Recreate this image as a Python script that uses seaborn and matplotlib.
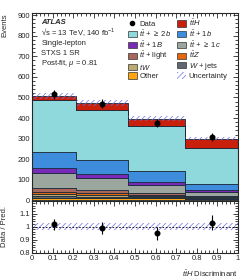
import numpy as np
import pandas as pd
import matplotlib
matplotlib.use("Agg")
import matplotlib.pyplot as plt
import matplotlib.patches as mpatches
from matplotlib.lines import Line2D
from matplotlib.ticker import MultipleLocator, FixedLocator, FixedFormatter
import seaborn as sns

# ---------------- data ----------------
bin_edges = [0.0, 0.215, 0.465, 0.745, 1.0]
bin_centers = [0.1075, 0.34, 0.605, 0.8725]

# per-bin yields (events), stack from top to bottom
ttH      = [17, 32, 37, 45]
tt_2b    = [255, 246, 219, 176]
tt_1b    = [76, 65, 49, 27]
tt_1B    = [24, 22, 18, 12]
tt_1c    = [73, 56, 38, 16]
tt_light = [22, 15, 7, 4]
ttZ      = [10, 10, 7, 4]
tW       = [10, 9, 6, 4]
Wjets    = [8, 7, 6, 4]
Other    = [12, 11, 10, 8]

data_vals = [515, 469, 376, 309]
data_errs = [23, 22, 19, 18]
rel_unc   = [0.028, 0.028, 0.028, 0.028]

labels = [r"$t\bar{t}H$", r"$t\bar{t}$ + $\geq$ 2$b$", r"$t\bar{t}$ + 1$b$",
          r"$t\bar{t}$ + 1$B$", r"$t\bar{t}$ + $\geq$ 1$c$", r"$t\bar{t}$ + light",
          r"$t\bar{t}Z$", r"$tW$", r"$W$ + jets", "Other"]
colors = ["#c8200a", "#8fd8dc", "#3e8ddc", "#7a2ab8", "#9ba69f", "#a8675a",
          "#e4670e", "#bcaa72", "#62666f", "#ffa510"]
yields = [ttH, tt_2b, tt_1b, tt_1B, tt_1c, tt_light, ttZ, tW, Wjets, Other]

rows = []
for lab, ys in zip(labels, yields):
    for c, y in zip(bin_centers, ys):
        rows.append({"x": c, "w": y, "proc": lab})
df = pd.DataFrame(rows)

total = np.sum(np.array(yields), axis=0)

# ---------------- style ----------------
sns.set_style("ticks")
plt.rcParams["font.family"] = ["Liberation Sans", "DejaVu Sans"]
plt.rcParams["mathtext.fontset"] = "custom"
plt.rcParams["mathtext.rm"] = "Liberation Sans"
plt.rcParams["mathtext.it"] = "Liberation Sans:italic"
plt.rcParams["hatch.linewidth"] = 0.5
plt.rcParams["hatch.color"] = "#6f6fe6"
FS = 5.5

fig = plt.figure(figsize=(2.49, 2.79), dpi=100)
W, H = 249, 279
left, right = 32 / W, 238 / W
ax = fig.add_axes([left, 1 - 200.5 / H, right - left, (200.5 - 13) / H])
axr = fig.add_axes([left, 1 - 252.5 / H, right - left, (252.5 - 200.5) / H])

palette = dict(zip(labels, colors))
sns.histplot(data=df, x="x", weights="w", hue="proc", hue_order=labels,
             bins=bin_edges, multiple="stack", element="step", fill=True,
             palette=palette, alpha=1, edgecolor="#1a2a3a", linewidth=0.6,
             legend=False, ax=ax)

# uncertainty band
edges = np.array(bin_edges)
up = np.append(total * (1 + np.array(rel_unc)), total[-1] * (1 + rel_unc[-1]))
dn = np.append(total * (1 - np.array(rel_unc)), total[-1] * (1 - rel_unc[-1]))
ax.fill_between(edges, dn, up, step="post", facecolor="none", hatch="//////",
                edgecolor="#6f6fe6", linewidth=0)

ax.errorbar(bin_centers, data_vals, yerr=data_errs, fmt="o", color="black",
            ms=3.3, elinewidth=0.8, capsize=0, zorder=5)

ax.set_xlim(0, 1)
ax.set_ylim(0, 910)
ax.set_xlabel("")
ax.set_ylabel("Events", loc="top", fontsize=FS)
ax.yaxis.set_major_locator(MultipleLocator(100))
ax.yaxis.set_minor_locator(MultipleLocator(20))
ax.xaxis.set_major_locator(MultipleLocator(0.1))
ax.xaxis.set_minor_locator(MultipleLocator(0.02))
ax.tick_params(axis="x", labelbottom=False)

# ratio
ratio = np.array(data_vals) / total
ratio_err = np.array(data_errs) / total
r_up = np.append(1 + np.array(rel_unc), 1 + rel_unc[-1])
r_dn = np.append(1 - np.array(rel_unc), 1 - rel_unc[-1])
axr.fill_between(edges, r_dn, r_up, step="post", facecolor="none", hatch="//////",
                 edgecolor="#6f6fe6", linewidth=0)
axr.axhline(1.0, color="black", ls=(0, (2, 2)), lw=0.6)
axr.errorbar(bin_centers, ratio, yerr=ratio_err, fmt="o", color="black",
             ms=3.3, elinewidth=0.8, capsize=0, zorder=5)
axr.set_xlim(0, 1)
axr.set_ylim(0.8, 1.2)
axr.yaxis.set_major_locator(FixedLocator([0.8, 0.9, 1.0, 1.1]))
axr.yaxis.set_major_formatter(FixedFormatter(["0.8", "0.9", "1", "1.1"]))
axr.yaxis.set_minor_locator(MultipleLocator(0.02))
axr.xaxis.set_major_locator(MultipleLocator(0.1))
axr.xaxis.set_minor_locator(MultipleLocator(0.02))
axr.xaxis.set_major_formatter(matplotlib.ticker.FuncFormatter(
    lambda v, p: "0" if abs(v) < 1e-9 else ("1" if abs(v - 1) < 1e-9 else f"{v:.1f}")))
axr.set_ylabel("Data / Pred.", fontsize=FS)
axr.set_xlabel(r"$t\bar{t}H$ Discriminant", loc="right", fontsize=FS, labelpad=5)

for a in (ax, axr):
    a.tick_params(which="both", direction="in", top=True, right=True,
                  labelsize=FS, pad=1.5, width=0.6)
    a.tick_params(which="major", length=3.5)
    a.tick_params(which="minor", length=2)
    for s in a.spines.values():
        s.set_linewidth(0.8)
ax.yaxis.set_label_coords(-0.115, 1.0)
axr.yaxis.set_label_coords(-0.115, 0.5)

# texts
ax.text(0.045, 0.9413, "ATLAS", transform=ax.transAxes, fontsize=FS,
        fontweight="bold", fontstyle="italic", va="baseline")
info = ["\u221as = 13 TeV, 140 fb$^{-1}$", "Single-lepton", "STXS 1 SR",
        r"Post-fit, $\mu$ = 0.81"]
info_y = [0.8827, 0.8293, 0.776, 0.7227]
for t, yy in zip(info, info_y):
    ax.text(0.045, yy, t, transform=ax.transAxes, fontsize=FS, va="baseline")

# legend
def patch(c):
    return mpatches.Patch(facecolor=c, edgecolor="#333333", linewidth=0.5)
h_data = Line2D([], [], marker="o", color="black", ls="none", ms=3.0)
h_unc = mpatches.Patch(facecolor="none", hatch="//////", edgecolor="#6f6fe6", linewidth=0)
pm = dict(zip(labels, colors))
col1 = [(h_data, "Data")] + [(patch(pm[l]), l) for l in
        [labels[1], labels[3], labels[5], labels[7], labels[9]]]
col2 = [(patch(pm[l]), l) for l in
        [labels[0], labels[2], labels[4], labels[6], labels[8]]] + [(h_unc, "Uncertainty")]
items = col1 + col2
ax.legend([h for h, _ in items], [l for _, l in items], ncol=2, fontsize=FS,
          frameon=False, loc="upper left", bbox_to_anchor=(0.465, 0.975),
          handlelength=1.15, handleheight=0.9, handletextpad=0.35,
          columnspacing=0.8, labelspacing=0.05, borderaxespad=0, borderpad=0)

fig.savefig("out.png", dpi=100)
